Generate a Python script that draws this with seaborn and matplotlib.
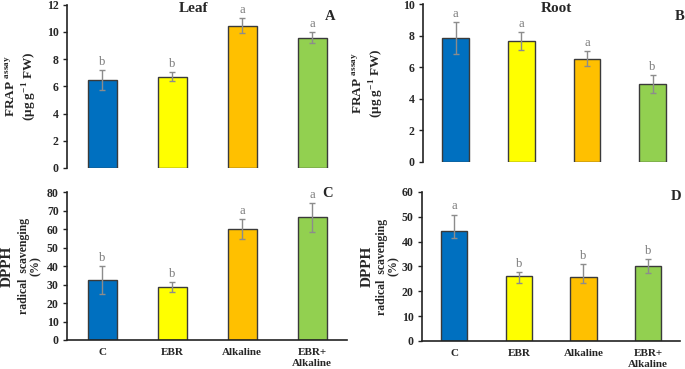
import numpy as np
import pandas as pd
import seaborn as sns
import matplotlib
matplotlib.use("Agg")
import matplotlib.pyplot as plt

treatments = ["C", "EBR", "Alkaline", "EBR+\nAlkaline"]
bar_colors = ["#0070C0", "#FFFF00", "#FFC000", "#92D050"]

# A: leaf FRAP
leaf_frap = [6.45, 6.70, 10.45, 9.58]
leaf_frap_err = [0.74, 0.33, 0.55, 0.40]
leaf_frap_sig = ["b", "b", "a", "a"]

# B: root FRAP
root_frap = [7.86, 7.65, 6.55, 4.94]
root_frap_err = [1.0, 0.56, 0.45, 0.56]
root_frap_sig = ["a", "a", "a", "b"]

# C: leaf DPPH
leaf_dpph = [32.3, 28.6, 60.1, 66.3]
leaf_dpph_err = [7.5, 2.6, 5.3, 7.7]
leaf_dpph_sig = ["b", "b", "a", "a"]

# D: root DPPH (asymmetric bars as drawn)
root_dpph = [44.3, 26.1, 25.6, 30.2]
root_dpph_lo = [2.8, 2.9, 2.4, 3.0]
root_dpph_hi = [6.6, 1.8, 5.3, 2.7]
root_dpph_sig = ["a", "b", "b", "b"]

sns.set_theme(style="white")
plt.rcParams["font.family"] = ["Liberation Serif", "DejaVu Serif"]
plt.rcParams["mathtext.fontset"] = "custom"
plt.rcParams["mathtext.rm"] = "Liberation Serif:bold"
plt.rcParams["mathtext.bf"] = "Liberation Serif:bold"

fig = plt.figure(figsize=(6.85, 3.69), dpi=100)
axA = fig.add_axes([0.098, 0.545, 0.409, 0.442])
axB = fig.add_axes([0.6175, 0.561, 0.383, 0.428])
axC = fig.add_axes([0.098, 0.0786, 0.409, 0.401])
axD = fig.add_axes([0.616, 0.0759, 0.377, 0.404])

frap_label = "FRAP $^{\\mathregular{assay}}$\n(µg g$^{\\mathregular{-1}}$ FW)"
dpph_label = "radical  scavenging\n(%)"


def panel(ax, vals, lo, hi, sig, ymax, ystep, letter, lxy, show_x):
    df = pd.DataFrame({"trt": treatments, "val": vals})
    sns.barplot(data=df, x="trt", y="val", hue="trt", palette=bar_colors,
                saturation=1, legend=False, width=0.41, edgecolor="#3a3a3a",
                linewidth=1.0, errorbar=None, ax=ax)
    pos = np.arange(len(vals))
    ax.errorbar(pos, vals, yerr=[lo, hi], fmt="none", ecolor="#8c8c8c",
                elinewidth=1.0, capsize=2.5, capthick=1.0)
    for p, v, h, s in zip(pos, vals, hi, sig):
        ax.annotate(s, (p, v + h), xytext=(0, 1.5), textcoords="offset points",
                    ha="center", va="bottom", fontsize=9, color="#7a7a7a")
    ax.set_ylim(0, ymax)
    yt = np.arange(0, ymax + 0.01, ystep)
    ax.set_yticks(yt, labels=[f"{v:g}" for v in yt], fontweight="bold",
                  fontsize=8.5)
    ax.set_xlim(-0.5, 3.5)
    ax.set_xlabel("")
    for sp in ["top", "right"]:
        ax.spines[sp].set_visible(False)
    ax.spines["left"].set_color("#222222")
    ax.spines["left"].set_linewidth(1.2)
    if show_x:
        ax.spines["bottom"].set_color("#222222")
        ax.spines["bottom"].set_linewidth(1.2)
        ax.set_xticks(pos, labels=treatments, fontweight="bold", fontsize=8)
        ax.tick_params(axis="x", length=0, pad=6)
    else:
        ax.spines["bottom"].set_visible(False)
        ax.set_xticks([])
    ax.tick_params(axis="y", direction="out", length=3, width=1, left=True,
                   pad=3, color="#222222")
    ax.text(lxy[0], lxy[1], letter, transform=ax.transAxes, fontsize=10.5,
            fontweight="bold", ha="center", va="center")


panel(axA, leaf_frap, leaf_frap_err, leaf_frap_err, leaf_frap_sig, 12, 2,
      "A", (0.94, 0.93), False)
panel(axB, root_frap, root_frap_err, root_frap_err, root_frap_sig, 10, 2,
      "B", (0.98, 0.92), False)
panel(axC, leaf_dpph, leaf_dpph_err, leaf_dpph_err, leaf_dpph_sig, 80, 10,
      "C", (0.93, 0.99), True)
panel(axD, root_dpph, root_dpph_lo, root_dpph_hi, root_dpph_sig, 60, 10,
      "D", (0.985, 0.97), True)

axA.set_ylabel(frap_label, fontsize=9.5, fontweight="bold", linespacing=1.2)
axA.yaxis.set_label_coords(-0.10, 0.5)
axB.set_ylabel(frap_label, fontsize=9.5, fontweight="bold", linespacing=1.2)
axB.yaxis.set_label_coords(-0.141, 0.5)
axC.set_ylabel(dpph_label, fontsize=8.5, fontweight="bold", linespacing=1.05)
axC.yaxis.set_label_coords(-0.089, 0.5)
axD.set_ylabel(dpph_label, fontsize=8.5, fontweight="bold", linespacing=1.05)
axD.yaxis.set_label_coords(-0.085, 0.5)

# larger "DPPH" line to the left of each lower y label
for ax, xpx in ((axC, 7), (axD, 367)):
    bb = ax.get_position()
    fig.text(xpx / 685, bb.y0 + bb.height / 2, "DPPH", rotation=90,
             fontsize=11, fontweight="bold", ha="center", va="center")

axA.text(0.45, 0.975, "Leaf", transform=axA.transAxes, fontsize=11,
         fontweight="bold", ha="center", va="center")
axB.text(0.51, 0.975, "Root", transform=axB.transAxes, fontsize=11,
         fontweight="bold", ha="center", va="center")

fig.savefig("out.png", dpi=100)
